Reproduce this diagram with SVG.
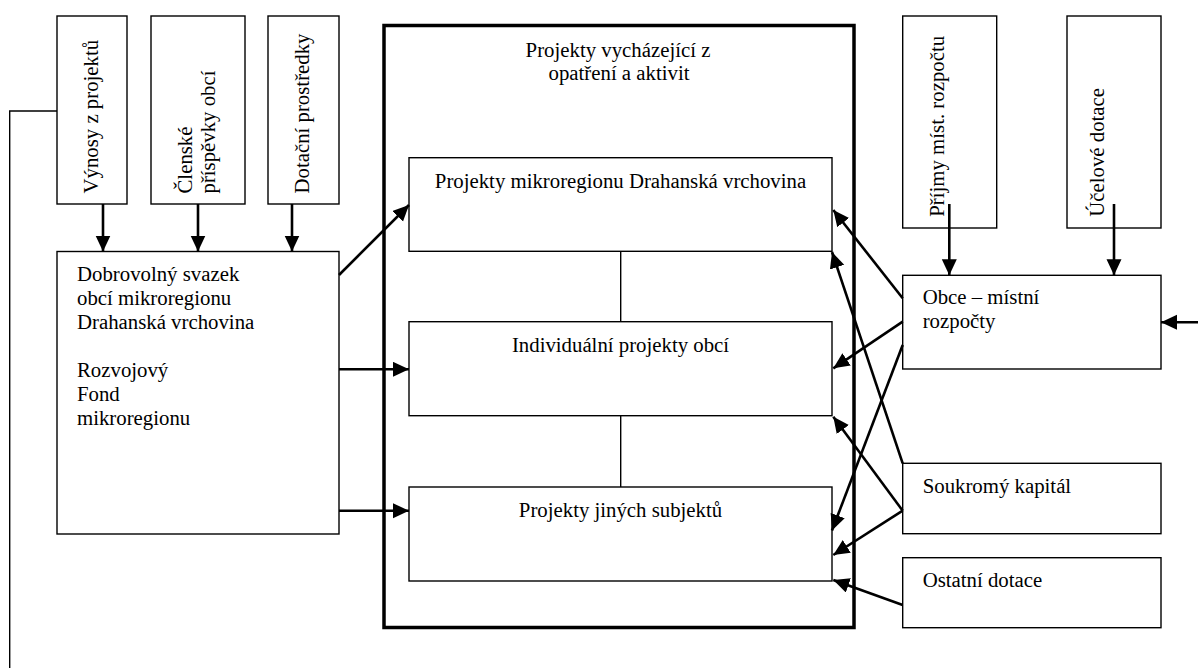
<svg xmlns="http://www.w3.org/2000/svg" width="1198" height="668" viewBox="0 0 1198 668">
<style>
.box{fill:#fff;stroke:#000;stroke-width:1.4}
.main{fill:none;stroke:#000;stroke-width:3.5}
.t{font-family:'Liberation Serif','DejaVu Serif',serif;font-size:20.8px;fill:#000}
.c{text-anchor:middle}
.arr{stroke:#000;stroke-width:2.6;fill:none;marker-end:url(#ah)}
.thin{stroke:#000;stroke-width:1.4;fill:none}
</style>
<defs>
<marker id="ah" markerUnits="userSpaceOnUse" markerWidth="17" markerHeight="16" refX="16" refY="7.5" orient="auto">
<path d="M0,0 L16,7.5 L0,15 z" fill="#000"/>
</marker>
</defs>
<rect width="1198" height="668" fill="#fff"/>
<g class="t">
<g id="vynosy">
<rect class="box" x="57" y="16" width="70" height="188"/>
<text transform="translate(97.5,193.5) rotate(-90)">Výnosy z projektů</text>
</g>
<g id="clenske">
<rect class="box" x="151" y="16" width="94" height="188"/>
<text transform="translate(191.5,193.5) rotate(-90)">Členské</text>
<text transform="translate(215,193.5) rotate(-90)">příspěvky obcí</text>
</g>
<g id="dotacni">
<rect class="box" x="268" y="16" width="71" height="188"/>
<text transform="translate(308.5,193.5) rotate(-90)">Dotační prostředky</text>
</g>
<g id="dso">
<rect class="box" x="57" y="251.5" width="282" height="282.5"/>
<text x="77" y="280.7">Dobrovolný svazek</text>
<text x="77" y="305">obcí mikroregionu</text>
<text x="77" y="329.3">Drahanská vrchovina</text>
<text x="77" y="376.7">Rozvojový</text>
<text x="77" y="401">Fond</text>
<text x="77" y="425.3">mikroregionu</text>
</g>
<g id="projekty">
<rect class="main" x="384" y="25.5" width="470" height="602"/>
<text class="c" x="618" y="56.7">Projekty vycházející z</text>
<text class="c" x="619" y="80">opatření a aktivit</text>
</g>
<g id="p-mikro">
<rect class="box" x="409" y="157.7" width="423" height="93.6"/>
<text class="c" x="620.5" y="187.7">Projekty mikroregionu Drahanská vrchovina</text>
</g>
<g id="p-indiv">
<rect class="box" x="409" y="321.7" width="423" height="94"/>
<text class="c" x="620.5" y="351.7">Individuální projekty obcí</text>
</g>
<g id="p-jine">
<rect class="box" x="409" y="487" width="423" height="94"/>
<text class="c" x="620.5" y="516.7">Projekty jiných subjektů</text>
</g>
<g id="prijmy">
<rect class="box" x="902.7" y="16" width="94" height="212"/>
<text transform="translate(944,216.7) rotate(-90)">Příjmy míst. rozpočtu</text>
</g>
<g id="ucelove">
<rect class="box" x="1067" y="16" width="94" height="212"/>
<text transform="translate(1103.5,216.7) rotate(-90)">Účelové dotace</text>
</g>
<g id="obce">
<rect class="box" x="902.7" y="275.3" width="258.3" height="93.7"/>
<text x="922.7" y="304">Obce – místní</text>
<text x="922.7" y="328.3">rozpočty</text>
</g>
<g id="soukromy">
<rect class="box" x="902.7" y="463.3" width="258.3" height="70.4"/>
<text x="922.7" y="493.3">Soukromý kapitál</text>
</g>
<g id="ostatni">
<rect class="box" x="902.7" y="557.7" width="258.3" height="70"/>
<text x="922.7" y="586.7">Ostatní dotace</text>
</g>
</g>
<g id="connectors">
<polyline class="thin" points="57,111 9.7,111 9.7,668"/>
<line class="thin" x1="620.7" y1="251.3" x2="620.7" y2="321.7"/>
<line class="thin" x1="620.7" y1="415.7" x2="620.7" y2="487"/>
<line class="arr" x1="103" y1="204" x2="103" y2="251.5"/>
<line class="arr" x1="198" y1="204" x2="198" y2="251.5"/>
<line class="arr" x1="292" y1="204" x2="292" y2="251.5"/>
<line class="arr" x1="339" y1="275" x2="409" y2="205"/>
<line class="arr" x1="339" y1="369.3" x2="409" y2="369.3"/>
<line class="arr" x1="339" y1="510.7" x2="409" y2="510.7"/>
<line class="arr" x1="949.3" y1="204" x2="949.3" y2="275.3"/>
<line class="arr" x1="1114" y1="204" x2="1114" y2="275.3"/>
<line class="arr" x1="1198" y1="322.3" x2="1161" y2="322.3"/>
<line class="arr" x1="902.7" y1="298.3" x2="833.3" y2="210"/>
<line class="arr" x1="902.7" y1="321.7" x2="833.3" y2="368.3"/>
<line class="arr" x1="902.7" y1="345" x2="832" y2="530.5"/>
<line class="arr" x1="902.7" y1="463.3" x2="832" y2="252"/>
<line class="arr" x1="902.7" y1="510.7" x2="833.3" y2="416.7"/>
<line class="arr" x1="902.7" y1="510.7" x2="833.3" y2="555"/>
<line class="arr" x1="902.7" y1="605" x2="833.3" y2="580"/>
</g>
</svg>
